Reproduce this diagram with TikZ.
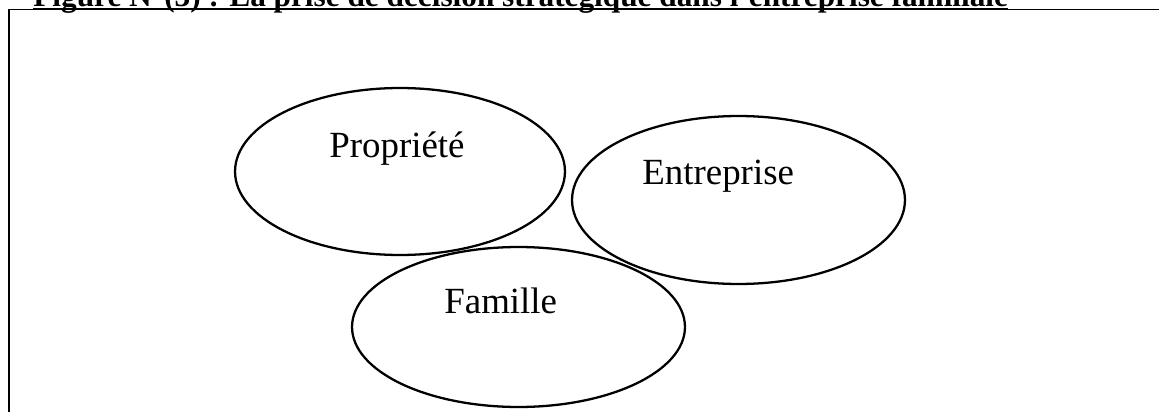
\documentclass[tikz,border=0pt]{standalone}
\usepackage{fontspec}
\setmainfont{Liberation Serif}
\usetikzlibrary{shapes.geometric}
\tikzset{
  cercle/.style={draw,ellipse,line width=1.3pt,inner sep=0pt},
  etiquette/.style={anchor=base west,inner sep=0pt,font=\fontsize{21}{25}\selectfont},
}
\begin{document}
\begin{tikzpicture}[x=0.02cm,y=-0.02cm]
		\clip (0,0) rectangle (1159,412);
		% titre et cadre
		\node[anchor=base west,inner sep=0pt,font=\bfseries\fontsize{17.8}{20}\selectfont] at (33,6.5) (titre) {Figure N°(3) : La prise de décision stratégique dans l'entreprise familiale};
		\draw[line width=1pt] ([yshift=-1.2pt]titre.base west) -- ([yshift=-1.2pt]titre.base east);
		\draw[line width=1.1pt] (9,430) -- (9,9.5) -- (1170,9.5);
		% les trois cercles
		\node at (400,171.5) [cercle,minimum width=6.6cm,minimum height=3.34cm] (propriete) {};
		\node at (738.5,200) [cercle,minimum width=6.66cm,minimum height=3.36cm] (entreprise) {};
		\node at (518.5,327) [cercle,minimum width=6.66cm,minimum height=3.2cm] (famille) {};
		\node at (329,157) [etiquette] (lprop) {Propriété};
		\node at (642,184) [etiquette] (lent) {Entreprise};
		\node at (444,313) [etiquette] (lfam) {Famille};
	\end{tikzpicture}
\end{document}
